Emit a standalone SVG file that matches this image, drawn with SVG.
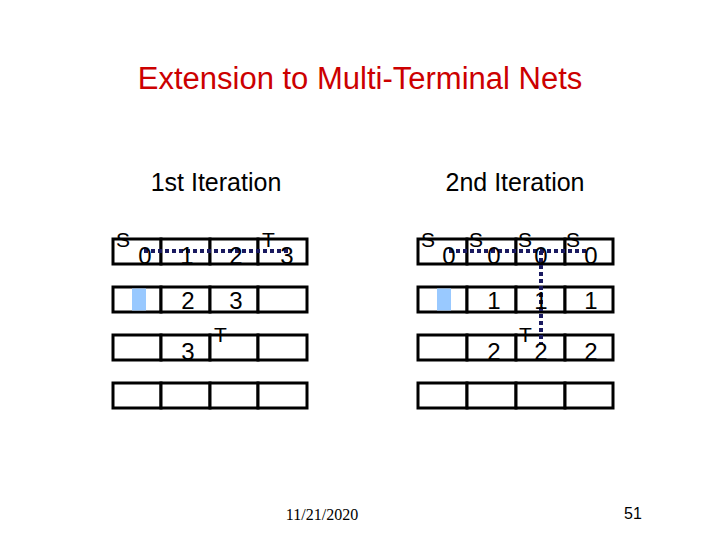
<svg xmlns="http://www.w3.org/2000/svg" width="720" height="540" viewBox="0 0 720 540">
<style>
.c{fill:#fff;stroke:#000;stroke-width:3}
.t{font-family:"Liberation Sans",Arial,sans-serif;fill:#000}
.n{font-size:24px;text-anchor:middle}
.s{font-size:21px}
.b{fill:#99c9ff}
.d{stroke:#1a1a60;stroke-width:4;stroke-dasharray:4 3;fill:none}
</style>
<rect width="720" height="540" fill="#fff"/>
<text x="360" y="89" class="t" font-size="31" text-anchor="middle" style="fill:#cc0000">Extension to Multi-Terminal Nets</text>
<text x="216" y="191" class="t" font-size="25" text-anchor="middle">1st Iteration</text>
<text x="515" y="191" class="t" font-size="25" text-anchor="middle">2nd Iteration</text>
<g id="left-grid">
<g id="l-r1"><rect class="c" x="113" y="239" width="48" height="25"/><rect class="c" x="161" y="239" width="49" height="25"/><rect class="c" x="210" y="239" width="48" height="25"/><rect class="c" x="258" y="239" width="49" height="25"/></g>
<g id="l-r2"><rect class="c" x="113" y="287" width="48" height="25"/><rect class="c" x="161" y="287" width="49" height="25"/><rect class="c" x="210" y="287" width="48" height="25"/><rect class="c" x="258" y="287" width="49" height="25"/><rect class="b" x="132" y="288.5" width="14" height="22"/></g>
<g id="l-r3"><rect class="c" x="113" y="335" width="48" height="25"/><rect class="c" x="161" y="335" width="49" height="25"/><rect class="c" x="210" y="335" width="48" height="25"/><rect class="c" x="258" y="335" width="49" height="25"/></g>
<g id="l-r4"><rect class="c" x="113" y="383" width="48" height="25"/><rect class="c" x="161" y="383" width="49" height="25"/><rect class="c" x="210" y="383" width="48" height="25"/><rect class="c" x="258" y="383" width="49" height="25"/></g>
</g>
<g id="right-grid">
<g id="r-r1"><rect class="c" x="418" y="239" width="49" height="25"/><rect class="c" x="467" y="239" width="49" height="25"/><rect class="c" x="516" y="239" width="49" height="25"/><rect class="c" x="565" y="239" width="48" height="25"/></g>
<g id="r-r2"><rect class="c" x="418" y="287" width="49" height="25"/><rect class="c" x="467" y="287" width="49" height="25"/><rect class="c" x="516" y="287" width="49" height="25"/><rect class="c" x="565" y="287" width="48" height="25"/><rect class="b" x="437" y="288.5" width="14" height="22"/></g>
<g id="r-r3"><rect class="c" x="418" y="335" width="49" height="25"/><rect class="c" x="467" y="335" width="49" height="25"/><rect class="c" x="516" y="335" width="49" height="25"/><rect class="c" x="565" y="335" width="48" height="25"/></g>
<g id="r-r4"><rect class="c" x="418" y="383" width="49" height="25"/><rect class="c" x="467" y="383" width="49" height="25"/><rect class="c" x="516" y="383" width="49" height="25"/><rect class="c" x="565" y="383" width="48" height="25"/></g>
</g>
<g id="connectors">
<path class="d" d="M144 251H288"/>
<path class="d" d="M449 251H586M541 251V344"/>
</g>
<g id="labels">
<text class="t s" x="116" y="247">S</text>
<text class="t n" x="145" y="264">0</text>
<text class="t n" x="187" y="264">1</text>
<text class="t n" x="236" y="264">2</text>
<text class="t s" x="262" y="247">T</text>
<text class="t n" x="287" y="264">3</text>
<text class="t n" x="188" y="309">2</text>
<text class="t n" x="236" y="309">3</text>
<text class="t n" x="188" y="360">3</text>
<text class="t s" x="214" y="342">T</text>
<text class="t s" x="421" y="247">S</text>
<text class="t n" x="449" y="264">0</text>
<text class="t s" x="469" y="247">S</text>
<text class="t n" x="494" y="264">0</text>
<text class="t s" x="518" y="247">S</text>
<text class="t n" x="541" y="264">0</text>
<text class="t s" x="566" y="247">S</text>
<text class="t n" x="591" y="264">0</text>
<text class="t n" x="494" y="309">1</text>
<text class="t n" x="541" y="309">1</text>
<text class="t n" x="591" y="309">1</text>
<text class="t n" x="494" y="360">2</text>
<text class="t s" x="519" y="342">T</text>
<text class="t n" x="541" y="360">2</text>
<text class="t n" x="591" y="360">2</text>
</g>
<text x="322" y="520" font-family="Liberation Serif,serif" font-size="16" text-anchor="middle">11/21/2020</text>
<text x="633" y="519" class="t" font-size="16" text-anchor="middle">51</text>
</svg>
